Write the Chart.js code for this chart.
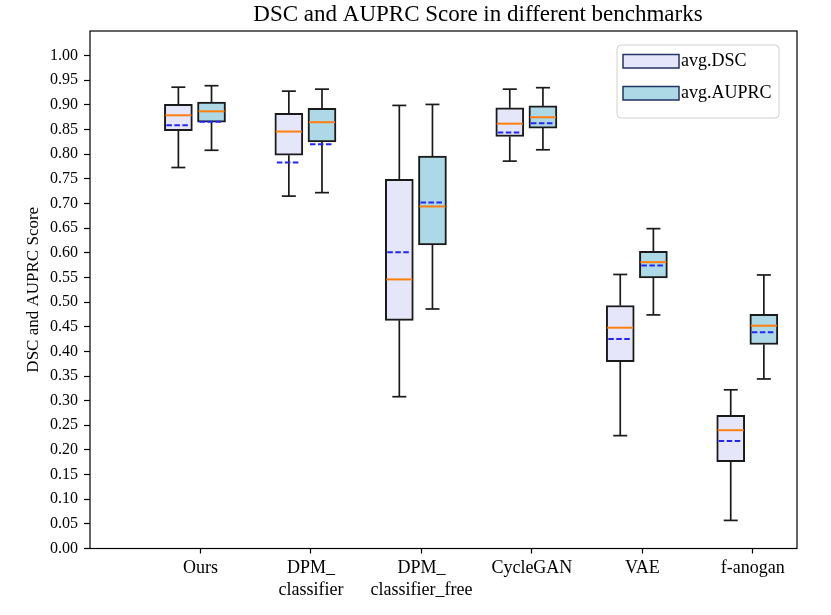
<!DOCTYPE html>
<html>
<head>
<meta charset="utf-8">
<script src="https://cdn.jsdelivr.net/npm/chart.js@4.4.1/dist/chart.umd.min.js"></script>
<style>
  html, body { margin: 0; padding: 0; background: #fff; }
  #wrap { width: 831px; height: 615px; position: relative; }
</style>
</head>
<body>
<div id="wrap"><canvas id="chart"></canvas></div>
<script>
const categories = [["Ours"], ["DPM_", "classifier"], ["DPM_", "classifier_free"], ["CycleGAN"], ["VAE"], ["f-anogan"]]
const seriesNames = ["avg.DSC", "avg.AUPRC"]

// box stats
const dscLow    = [0.773, 0.715, 0.308, 0.786, 0.229, 0.057]
const dscQ1     = [0.848, 0.798, 0.463, 0.836, 0.379, 0.176]
const dscMedian = [0.879, 0.846, 0.546, 0.862, 0.448, 0.240]
const dscQ3     = [0.901, 0.883, 0.749, 0.894, 0.493, 0.270]
const dscHigh   = [0.936, 0.928, 0.899, 0.932, 0.556, 0.322]
const dscMean   = [0.859, 0.783, 0.601, 0.844, 0.425, 0.218]

const auprcLow    = [0.808, 0.722, 0.486, 0.809, 0.474, 0.344]
const auprcQ1     = [0.865, 0.825, 0.616, 0.853, 0.549, 0.414]
const auprcMedian = [0.887, 0.865, 0.694, 0.875, 0.581, 0.452]
const auprcQ3     = [0.906, 0.893, 0.796, 0.898, 0.603, 0.475]
const auprcHigh   = [0.939, 0.932, 0.901, 0.935, 0.649, 0.555]
const auprcMean   = [0.866, 0.820, 0.702, 0.863, 0.574, 0.439]

const yTicks = [0.00, 0.05, 0.10, 0.15, 0.20, 0.25, 0.30, 0.35, 0.40, 0.45, 0.50,
                0.55, 0.60, 0.65, 0.70, 0.75, 0.80, 0.85, 0.90, 0.95, 1.00]

const FONT = "'Liberation Serif', 'DejaVu Serif', serif"
const fills = ["#e6e6fa", "#add8e6"]
const offsets = [-0.2, 0.1]   // box position relative to the tick
const boxPx = 28

const groups = [
  {low: dscLow, q1: dscQ1, med: dscMedian, q3: dscQ3, high: dscHigh, mean: dscMean},
  {low: auprcLow, q1: auprcQ1, med: auprcMedian, q3: auprcQ3, high: auprcHigh, mean: auprcMean}
]

function makeDataset(k){
  const g = groups[k]
  return {
    label: seriesNames[k],
    data: categories.map((c, i) => ({x: i + 1 + offsets[k], y: [g.q1[i], g.q3[i]]})),
    backgroundColor: fills[k],
    borderColor: "#1a1a1a",
    borderWidth: 2,
    borderSkipped: false,
    barThickness: boxPx,
    grouped: false
  }
}

function seg(ctx, x1, y1, x2, y2){
  ctx.beginPath()
  ctx.moveTo(x1, y1)
  ctx.lineTo(x2, y2)
  ctx.stroke()
}

const boxExtras = {
  id: "boxExtras",
  beforeDatasetsDraw(chart){   // whiskers + caps
    const {ctx, scales: {x, y}} = chart
    ctx.save()
    ctx.strokeStyle = "#1a1a1a"
    ctx.lineWidth = 1.7
    groups.forEach((g, k) => {
      categories.forEach((c, i) => {
        const cx = x.getPixelForValue(i + 1 + offsets[k])
        const cap = boxPx / 4
        seg(ctx, cx, y.getPixelForValue(g.low[i]), cx, y.getPixelForValue(g.q1[i]))
        seg(ctx, cx, y.getPixelForValue(g.q3[i]), cx, y.getPixelForValue(g.high[i]))
        seg(ctx, cx - cap, y.getPixelForValue(g.low[i]), cx + cap, y.getPixelForValue(g.low[i]))
        seg(ctx, cx - cap, y.getPixelForValue(g.high[i]), cx + cap, y.getPixelForValue(g.high[i]))
      })
    })
    ctx.restore()
  },
  afterDatasetsDraw(chart){   // median + mean lines
    const {ctx, scales: {x, y}} = chart
    ctx.save()
    groups.forEach((g, k) => {
      categories.forEach((c, i) => {
        const cx = x.getPixelForValue(i + 1 + offsets[k])
        const half = boxPx / 2
        ctx.setLineDash([])
        ctx.strokeStyle = "#ff7f0e"
        ctx.lineWidth = 2
        const ym = y.getPixelForValue(g.med[i])
        seg(ctx, cx - half + 1, ym, cx + half - 1, ym)
        ctx.setLineDash([5.5, 2.5])
        ctx.strokeStyle = "#2424ff"
        const ya = y.getPixelForValue(g.mean[i])
        seg(ctx, cx - half + 2, ya, cx + half - 2, ya)
      })
    })
    ctx.restore()
  },
  afterDraw(chart){   // frame, legend, title
    const {ctx, chartArea: a} = chart
    ctx.save()
    ctx.strokeStyle = "#000"
    ctx.lineWidth = 1.2
    ctx.strokeRect(a.left, a.top, a.right - a.left, a.bottom - a.top)

    // legend
    const lx = a.right - 180, ly = a.top + 14, lw = 162, lh = 73
    ctx.beginPath()
    ctx.roundRect(lx, ly, lw, lh, 4)
    ctx.fillStyle = "rgba(255,255,255,0.8)"
    ctx.fill()
    ctx.strokeStyle = "#d0d0d0"
    ctx.lineWidth = 1
    ctx.stroke()
    ctx.font = "18px " + FONT
    ctx.textBaseline = "middle"
    seriesNames.forEach((name, k) => {
      const py = ly + 9.5 + k * 32
      ctx.fillStyle = fills[k]
      ctx.fillRect(lx + 6, py, 56, 13.5)
      ctx.strokeStyle = "#233566"
      ctx.lineWidth = 1.5
      ctx.strokeRect(lx + 6, py, 56, 13.5)
      ctx.fillStyle = "#000"
      ctx.fillText(name, lx + 64, py + 7)
    })

    ctx.font = "23px " + FONT
    ctx.textAlign = "center"
    ctx.textBaseline = "alphabetic"
    ctx.fillStyle = "#000"
    ctx.fillText("DSC and AUPRC Score in different benchmarks", 478, 21)
    ctx.restore()
  }
}

Chart.defaults.font.family = FONT
Chart.defaults.color = "#000"

const myChart = new Chart(document.getElementById("chart"), {
  type: "bar",
  data: { datasets: [makeDataset(0), makeDataset(1)] },
  options: {
    responsive: true,
    maintainAspectRatio: false,
    animation: false,
    layout: { padding: { top: 31, right: 34, left: 0, bottom: 0 } },
    plugins: {
      legend: { display: false },
      tooltip: { enabled: false },
      title: { display: false }
    },
    scales: {
      x: {
        type: "linear",
        offset: false,
        min: 0,
        max: 6.4,
        afterBuildTicks: (s) => { s.ticks = categories.map((c, i) => ({value: i + 1})) },
        afterFit: (s) => { s.height = 66.5 },
        border: { display: false },
        grid: { offset: false, drawOnChartArea: false, tickLength: 5, tickColor: "#000", tickWidth: 1.2 },
        ticks: {
          autoSkip: false,
          maxRotation: 0,
          padding: 4,
          font: { size: 18 },
          callback: (v) => categories[Math.round(v) - 1]
        }
      },
      y: {
        min: 0,
        max: 1.05,
        afterBuildTicks: (s) => { s.ticks = yTicks.map(v => ({value: v})) },
        afterFit: (s) => { s.width = 90 },
        border: { display: false },
        grid: { drawOnChartArea: false, tickLength: 6, tickColor: "#000", tickWidth: 1.2 },
        ticks: {
          padding: 6,
          font: { size: 16 },
          callback: (v) => v.toFixed(2)
        },
        title: {
          display: true,
          text: "DSC and AUPRC Score",
          font: { size: 17 },
          padding: { top: 23, bottom: 0 }
        }
      }
    }
  },
  plugins: [boxExtras]
})
</script>
</body>
</html>
